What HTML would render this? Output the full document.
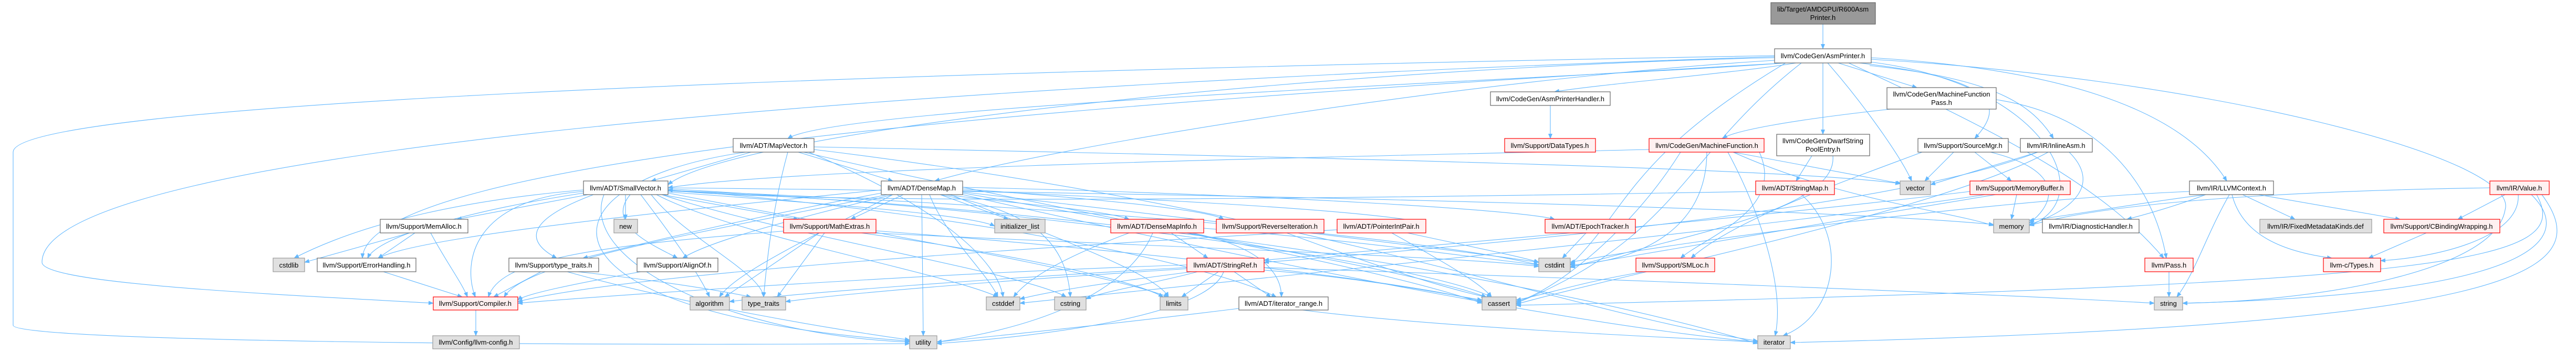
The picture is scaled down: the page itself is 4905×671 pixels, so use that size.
<!DOCTYPE html>
<html><head><meta charset="utf-8"><style>
html,body{margin:0;padding:0;background:#fff;}
svg{display:block;}
text{font-family:"Liberation Sans",sans-serif;font-size:13px;fill:#000;}
.e path{fill:none;stroke:#63b8ff;stroke-width:1.1;}
.w{fill:#fff;stroke:#666;stroke-width:1.2}
.r{fill:#fff0f0;stroke:#ff0000;stroke-width:1.2}
.g{fill:#e0e0e0;stroke:#999;stroke-width:1.2}
.t{fill:#999;stroke:#666;stroke-width:1.2}
</style></head><body>
<svg width="4905" height="671" viewBox="0 0 4905 671" xmlns="http://www.w3.org/2000/svg">
<defs><marker id="a" markerWidth="10" markerHeight="8" refX="9" refY="4" orient="auto" markerUnits="userSpaceOnUse"><path d="M0,0 L10,4 L0,8z" fill="#63b8ff"/></marker></defs>
<g class="e" marker-end="url(#a)">
<path marker-end="url(#a)" d="M3471 46 L3471 93"/>
<path marker-end="url(#a)" d="M3400 120 C3000 150,1600 200,1500 264"/>
<path marker-end="url(#a)" d="M3420 120 C3300 140,3050 160,2960 175"/>
<path marker-end="url(#a)" d="M3500 120 L3650 167"/>
<path marker-end="url(#a)" d="M3471 120 L3471 256"/>
<path marker-end="url(#a)" d="M3480 120 C3550 200,3620 300,3640 345"/>
<path marker-end="url(#a)" d="M3540 120 C3800 150,3820 200,3760 264"/>
<path marker-end="url(#a)" d="M3560 125 C3800 150,3870 200,3910 264"/>
<path marker-end="url(#a)" d="M3563 110 C3900 130,4150 200,4240 345"/>
<path marker-end="url(#a)" d="M3379 110 C2500 130,1400 250,1272 352"/>
<path marker-end="url(#a)" d="M3379 115 C2800 150,2000 280,1780 345"/>
<path marker-end="url(#a)" d="M3379 106 C1500 140,25 200,25 290 L25 620 C25 650,1000 660,1732 655"/>
<path marker-end="url(#a)" d="M3379 108 C1800 160,80 280,80 500 C80 540,500 560,825 578"/>
<path marker-end="url(#a)" d="M3400 120 C2000 200,700 300,690 492"/>
<path marker-end="url(#a)" d="M3430 120 C3200 300,3200 450,2887 578"/>
<path marker-end="url(#a)" d="M3560 118 C3900 160,4000 380,3864 430"/>
<path marker-end="url(#a)" d="M3563 113 C4200 150,4800 300,4770 400 C4750 520,4400 575,4156 578"/>
<path marker-end="url(#a)" d="M3400 120 C3100 300,3100 400,2990 505"/>
<path marker-end="url(#a)" d="M3520 120 C3800 250,4000 350,4120 492"/>
<path marker-end="url(#a)" d="M3600 208 C3400 230,3300 250,3280 264"/>
<path marker-end="url(#a)" d="M3801 190 C4000 220,4100 350,4125 492"/>
<path marker-end="url(#a)" d="M2952 201 L2952 264"/>
<path marker-end="url(#a)" d="M3450 297 L3420 345"/>
<path marker-end="url(#a)" d="M3490 297 C3500 400,3200 450,2990 510"/>
<path marker-end="url(#a)" d="M3200 290 C3100 450,2950 560,2887 575"/>
<path marker-end="url(#a)" d="M3250 290 C3250 450,3100 500,2990 505"/>
<path marker-end="url(#a)" d="M3140 285 C2500 300,1500 320,1272 358"/>
<path marker-end="url(#a)" d="M3300 290 C3500 380,3700 400,3796 430"/>
<path marker-end="url(#a)" d="M3300 290 L3620 350"/>
<path marker-end="url(#a)" d="M3290 290 C3350 400,3400 550,3380 640"/>
<path marker-end="url(#a)" d="M3350 290 C3400 400,3250 450,3200 492"/>
<path marker-end="url(#a)" d="M3430 371 C3520 450,3500 600,3395 640"/>
<path marker-end="url(#a)" d="M3343 365 C2500 380,1500 390,1272 362"/>
<path marker-end="url(#a)" d="M3720 290 L3665 345"/>
<path marker-end="url(#a)" d="M3760 290 L3830 345"/>
<path marker-end="url(#a)" d="M3790 290 C3950 330,3900 400,3864 425"/>
<path marker-end="url(#a)" d="M3660 290 C3500 350,3300 420,3220 492"/>
<path marker-end="url(#a)" d="M3880 290 L3676 352"/>
<path marker-end="url(#a)" d="M3940 290 C4000 350,3950 400,3864 428"/>
<path marker-end="url(#a)" d="M3880 290 C3600 400,2800 470,2407 500"/>
<path marker-end="url(#a)" d="M3900 290 C3700 400,3100 520,2887 580"/>
<path marker-end="url(#a)" d="M3840 371 L3830 418"/>
<path marker-end="url(#a)" d="M3780 371 C3400 430,2500 520,1942 578"/>
<path marker-end="url(#a)" d="M3800 371 C3500 420,3100 490,2990 508"/>
<path marker-end="url(#a)" d="M3751 365 C3300 420,2700 470,2407 496"/>
<path marker-end="url(#a)" d="M4270 371 L4370 418"/>
<path marker-end="url(#a)" d="M4300 371 L4570 418"/>
<path marker-end="url(#a)" d="M4250 371 C4270 450,4350 480,4440 492"/>
<path marker-end="url(#a)" d="M4245 371 C4200 450,4180 520,4145 566"/>
<path marker-end="url(#a)" d="M4200 371 C4050 390,3950 410,3864 420"/>
<path marker-end="url(#a)" d="M4169 365 C3800 380,3200 460,2990 500"/>
<path marker-end="url(#a)" d="M4200 371 C4150 390,4100 405,4050 418"/>
<path marker-end="url(#a)" d="M4770 371 L4680 418"/>
<path marker-end="url(#a)" d="M4795 371 C4800 450,4650 490,4533 497"/>
<path marker-end="url(#a)" d="M4820 371 C4900 450,4850 560,4156 578"/>
<path marker-end="url(#a)" d="M4840 371 C4950 520,4800 620,3409 653"/>
<path marker-end="url(#a)" d="M4830 371 C4900 500,4700 540,2887 582"/>
<path marker-end="url(#a)" d="M4741 358 C4300 365,4000 390,3864 430"/>
<path marker-end="url(#a)" d="M4620 444 L4510 492"/>
<path marker-end="url(#a)" d="M4130 518 L4130 566"/>
<path marker-end="url(#a)" d="M1430 290 L1240 345"/>
<path marker-end="url(#a)" d="M1520 290 L1700 345"/>
<path marker-end="url(#a)" d="M1550 280 C2500 300,3400 320,3618 350"/>
<path marker-end="url(#a)" d="M1530 290 C2000 400,2600 500,2822 578"/>
<path marker-end="url(#a)" d="M1420 290 C1000 350,1000 600,1732 650"/>
<path marker-end="url(#a)" d="M1550 285 C2500 400,3000 600,3347 650"/>
<path marker-end="url(#a)" d="M1500 290 C1470 400,1460 500,1454 566"/>
<path marker-end="url(#a)" d="M1540 290 C1800 400,1900 500,1910 566"/>
<path marker-end="url(#a)" d="M1120 371 L870 418"/>
<path marker-end="url(#a)" d="M1191 371 L1191 418"/>
<path marker-end="url(#a)" d="M1130 371 C1000 420,1000 460,1060 492"/>
<path marker-end="url(#a)" d="M1200 371 C1150 430,1250 470,1290 492"/>
<path marker-end="url(#a)" d="M1111 365 C900 380,880 500,905 566"/>
<path marker-end="url(#a)" d="M1220 371 C1280 450,1330 520,1351 566"/>
<path marker-end="url(#a)" d="M1240 371 C1300 450,1450 520,1454 566"/>
<path marker-end="url(#a)" d="M1250 371 C1400 450,1800 520,1900 566"/>
<path marker-end="url(#a)" d="M1260 371 C1500 450,1950 520,2030 566"/>
<path marker-end="url(#a)" d="M1272 368 C1700 450,2100 520,2225 566"/>
<path marker-end="url(#a)" d="M1272 362 C1800 400,2300 500,2430 566"/>
<path marker-end="url(#a)" d="M1272 360 C2000 400,2700 500,2840 566"/>
<path marker-end="url(#a)" d="M1111 362 C900 380,700 420,560 492"/>
<path marker-end="url(#a)" d="M1111 368 C900 400,720 450,700 492"/>
<path marker-end="url(#a)" d="M1272 366 C1600 390,1850 410,1894 431"/>
<path marker-end="url(#a)" d="M1150 371 C1100 500,1400 640,1732 652"/>
<path marker-end="url(#a)" d="M1272 364 C2200 400,3000 550,3347 655"/>
<path marker-end="url(#a)" d="M1260 371 L1520 418"/>
<path marker-end="url(#a)" d="M1272 363 C2000 390,2700 450,2930 505"/>
<path marker-end="url(#a)" d="M1272 358 C2500 370,3500 400,3796 428"/>
<path marker-end="url(#a)" d="M1790 371 L1920 418"/>
<path marker-end="url(#a)" d="M1800 371 C1950 390,2100 400,2150 418"/>
<path marker-end="url(#a)" d="M1833 360 C2100 380,2300 400,2330 418"/>
<path marker-end="url(#a)" d="M1833 357 C2400 370,2900 400,2960 418"/>
<path marker-end="url(#a)" d="M1833 363 C2200 380,2600 400,2715 425"/>
<path marker-end="url(#a)" d="M1770 371 C1800 450,1880 520,1900 566"/>
<path marker-end="url(#a)" d="M1790 371 C1950 400,2030 450,2038 566"/>
<path marker-end="url(#a)" d="M1755 371 L1758 640"/>
<path marker-end="url(#a)" d="M1720 371 L1620 418"/>
<path marker-end="url(#a)" d="M1700 371 C1500 420,1350 460,1300 492"/>
<path marker-end="url(#a)" d="M1690 371 C1300 450,1000 500,960 566"/>
<path marker-end="url(#a)" d="M1678 368 C1400 420,1200 470,1110 492"/>
<path marker-end="url(#a)" d="M1700 371 C1550 450,1400 520,1370 566"/>
<path marker-end="url(#a)" d="M1810 371 C2000 450,2200 520,2225 566"/>
<path marker-end="url(#a)" d="M1833 368 C2300 450,2700 520,2830 566"/>
<path marker-end="url(#a)" d="M1833 371 C2400 500,3000 620,3347 652"/>
<path marker-end="url(#a)" d="M1678 362 C1300 400,800 450,720 492"/>
<path marker-end="url(#a)" d="M1833 366 C2300 420,2800 480,2930 500"/>
<path marker-end="url(#a)" d="M780 444 L580 500"/>
<path marker-end="url(#a)" d="M790 444 L720 492"/>
<path marker-end="url(#a)" d="M820 444 C850 500,880 540,890 566"/>
<path marker-end="url(#a)" d="M730 518 L880 566"/>
<path marker-end="url(#a)" d="M1030 518 L940 566"/>
<path marker-end="url(#a)" d="M1100 518 C1300 540,1400 560,1430 566"/>
<path marker-end="url(#a)" d="M1080 518 C1300 580,1600 630,1732 648"/>
<path marker-end="url(#a)" d="M1220 518 C1100 540,1000 560,986 572"/>
<path marker-end="url(#a)" d="M1500 440 C1100 470,950 500,930 566"/>
<path marker-end="url(#a)" d="M1560 444 L1380 566"/>
<path marker-end="url(#a)" d="M1570 444 L1480 566"/>
<path marker-end="url(#a)" d="M1668 440 C2200 480,2700 540,2822 575"/>
<path marker-end="url(#a)" d="M1660 444 C2200 470,2800 490,2930 508"/>
<path marker-end="url(#a)" d="M1640 444 C1900 480,2150 530,2215 566"/>
<path marker-end="url(#a)" d="M906 591 L906 640"/>
<path marker-end="url(#a)" d="M2150 444 C2000 500,1950 540,1930 566"/>
<path marker-end="url(#a)" d="M2292 435 C2600 460,2800 490,2930 505"/>
<path marker-end="url(#a)" d="M2195 444 C2150 550,2000 620,1784 652"/>
<path marker-end="url(#a)" d="M2230 444 L2300 492"/>
<path marker-end="url(#a)" d="M2270 444 C2400 470,2440 520,2440 566"/>
<path marker-end="url(#a)" d="M2450 444 C2600 500,2750 550,2830 566"/>
<path marker-end="url(#a)" d="M2680 444 C2800 470,2900 490,2930 500"/>
<path marker-end="url(#a)" d="M2650 444 C2750 500,2820 540,2840 566"/>
<path marker-end="url(#a)" d="M2546 438 C2000 470,1200 520,986 575"/>
<path marker-end="url(#a)" d="M3020 444 L2975 492"/>
<path marker-end="url(#a)" d="M2270 518 C2100 540,2000 555,1942 570"/>
<path marker-end="url(#a)" d="M2280 518 C2200 540,2100 555,2068 570"/>
<path marker-end="url(#a)" d="M2320 518 L2250 566"/>
<path marker-end="url(#a)" d="M2350 518 L2420 566"/>
<path marker-end="url(#a)" d="M2330 518 C2300 600,2000 640,1784 655"/>
<path marker-end="url(#a)" d="M2407 510 C3000 530,3800 560,4102 578"/>
<path marker-end="url(#a)" d="M2260 505 C1800 520,1200 560,986 578"/>
<path marker-end="url(#a)" d="M2260 510 C1900 530,1500 560,1389 575"/>
<path marker-end="url(#a)" d="M2265 512 C1900 535,1600 560,1496 575"/>
<path marker-end="url(#a)" d="M2407 515 C2600 530,2750 560,2822 572"/>
<path marker-end="url(#a)" d="M2359 588 C2100 620,1900 640,1784 652"/>
<path marker-end="url(#a)" d="M2480 591 C2700 620,3100 640,3347 652"/>
<path marker-end="url(#a)" d="M3130 518 C3000 540,2950 560,2887 572"/>
</g>
<g text-anchor="middle">
<rect class="t" x="3372" y="5" width="199" height="41"/><text x="3471" y="22">lib/Target/AMDGPU/R600Asm</text><text x="3471" y="38">Printer.h</text>
<rect class="w" x="3379" y="93" width="184" height="27"/><text x="3471" y="111">llvm/CodeGen/AsmPrinter.h</text>
<rect class="w" x="3593" y="167" width="208" height="41"/><text x="3697" y="184">llvm/CodeGen/MachineFunction</text><text x="3697" y="200">Pass.h</text>
<rect class="w" x="2838" y="175" width="228" height="26"/><text x="2952" y="193">llvm/CodeGen/AsmPrinterHandler.h</text>
<rect class="w" x="1396" y="264" width="154" height="26"/><text x="1473" y="282">llvm/ADT/MapVector.h</text>
<rect class="r" x="2865" y="264" width="173" height="26"/><text x="2951" y="282">llvm/Support/DataTypes.h</text>
<rect class="r" x="3140" y="264" width="219" height="26"/><text x="3250" y="282">llvm/CodeGen/MachineFunction.h</text>
<rect class="w" x="3383" y="256" width="177" height="41"/><text x="3471" y="273">llvm/CodeGen/DwarfString</text><text x="3471" y="289">PoolEntry.h</text>
<rect class="w" x="3652" y="264" width="172" height="26"/><text x="3738" y="282">llvm/Support/SourceMgr.h</text>
<rect class="w" x="3847" y="264" width="137" height="26"/><text x="3915" y="282">llvm/IR/InlineAsm.h</text>
<rect class="w" x="1111" y="345" width="161" height="26"/><text x="1191" y="363">llvm/ADT/SmallVector.h</text>
<rect class="w" x="1678" y="345" width="155" height="26"/><text x="1755" y="363">llvm/ADT/DenseMap.h</text>
<rect class="r" x="3343" y="345" width="150" height="26"/><text x="3418" y="363">llvm/ADT/StringMap.h</text>
<rect class="g" x="3618" y="345" width="58" height="26"/><text x="3647" y="363">vector</text>
<rect class="r" x="3751" y="345" width="191" height="26"/><text x="3846" y="363">llvm/Support/MemoryBuffer.h</text>
<rect class="w" x="4169" y="345" width="160" height="26"/><text x="4249" y="363">llvm/IR/LLVMContext.h</text>
<rect class="r" x="4741" y="345" width="113" height="26"/><text x="4797" y="363">llvm/IR/Value.h</text>
<rect class="w" x="724" y="418" width="167" height="26"/><text x="807" y="436">llvm/Support/MemAlloc.h</text>
<rect class="g" x="1169" y="418" width="45" height="26"/><text x="1191" y="436">new</text>
<rect class="r" x="1492" y="418" width="176" height="26"/><text x="1580" y="436">llvm/Support/MathExtras.h</text>
<rect class="g" x="1894" y="418" width="96" height="26"/><text x="1942" y="436">initializer_list</text>
<rect class="r" x="2115" y="418" width="177" height="26"/><text x="2203" y="436">llvm/ADT/DenseMapInfo.h</text>
<rect class="r" x="2316" y="418" width="205" height="26"/><text x="2418" y="436">llvm/Support/ReverseIteration.h</text>
<rect class="r" x="2546" y="418" width="169" height="26"/><text x="2630" y="436">llvm/ADT/PointerIntPair.h</text>
<rect class="r" x="2942" y="418" width="172" height="26"/><text x="3028" y="436">llvm/ADT/EpochTracker.h</text>
<rect class="g" x="3796" y="418" width="68" height="26"/><text x="3830" y="436">memory</text>
<rect class="w" x="3889" y="418" width="184" height="26"/><text x="3981" y="436">llvm/IR/DiagnosticHandler.h</text>
<rect class="g" x="4303" y="418" width="213" height="26"/><text x="4409" y="436">llvm/IR/FixedMetadataKinds.def</text>
<rect class="r" x="4539" y="418" width="221" height="26"/><text x="4649" y="436">llvm/Support/CBindingWrapping.h</text>
<rect class="g" x="520" y="492" width="60" height="26"/><text x="550" y="510">cstdlib</text>
<rect class="w" x="604" y="492" width="188" height="26"/><text x="698" y="510">llvm/Support/ErrorHandling.h</text>
<rect class="w" x="969" y="492" width="171" height="26"/><text x="1054" y="510">llvm/Support/type_traits.h</text>
<rect class="w" x="1213" y="492" width="154" height="26"/><text x="1290" y="510">llvm/Support/AlignOf.h</text>
<rect class="r" x="2260" y="492" width="147" height="26"/><text x="2333" y="510">llvm/ADT/StringRef.h</text>
<rect class="g" x="2930" y="492" width="60" height="26"/><text x="2960" y="510">cstdint</text>
<rect class="r" x="3115" y="492" width="150" height="26"/><text x="3190" y="510">llvm/Support/SMLoc.h</text>
<rect class="r" x="4084" y="492" width="92" height="26"/><text x="4130" y="510">llvm/Pass.h</text>
<rect class="r" x="4424" y="492" width="109" height="26"/><text x="4478" y="510">llvm-c/Types.h</text>
<rect class="r" x="825" y="566" width="161" height="25"/><text x="905" y="583">llvm/Support/Compiler.h</text>
<rect class="g" x="1314" y="566" width="75" height="25"/><text x="1351" y="583">algorithm</text>
<rect class="g" x="1413" y="566" width="83" height="25"/><text x="1454" y="583">type_traits</text>
<rect class="g" x="1878" y="566" width="64" height="25"/><text x="1910" y="583">cstddef</text>
<rect class="g" x="2008" y="566" width="60" height="25"/><text x="2038" y="583">cstring</text>
<rect class="g" x="2209" y="566" width="53" height="25"/><text x="2235" y="583">limits</text>
<rect class="w" x="2359" y="566" width="170" height="25"/><text x="2444" y="583">llvm/ADT/iterator_range.h</text>
<rect class="g" x="2822" y="566" width="65" height="25"/><text x="2854" y="583">cassert</text>
<rect class="g" x="4102" y="566" width="54" height="25"/><text x="4129" y="583">string</text>
<rect class="g" x="824" y="640" width="165" height="25"/><text x="906" y="657">llvm/Config/llvm-config.h</text>
<rect class="g" x="1732" y="640" width="52" height="25"/><text x="1758" y="657">utility</text>
<rect class="g" x="3347" y="640" width="62" height="25"/><text x="3378" y="657">iterator</text>
</g>
</svg>
</body></html>
